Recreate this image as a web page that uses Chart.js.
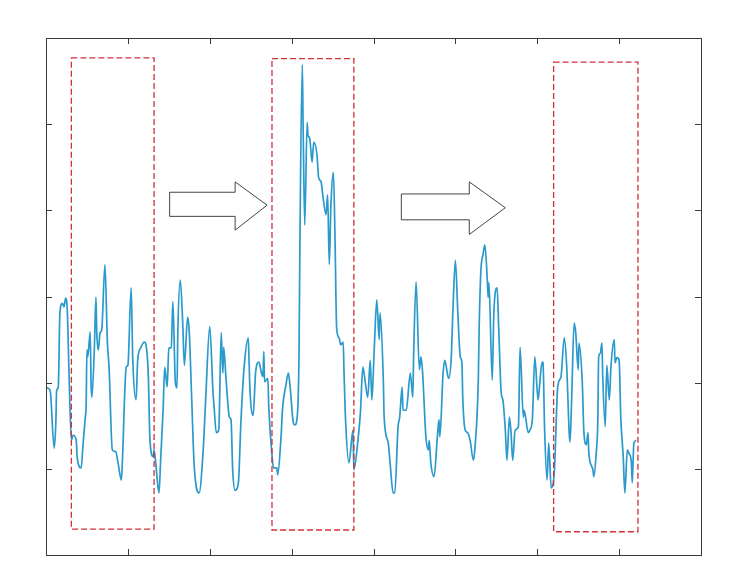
<!DOCTYPE html>
<html>
<head>
<meta charset="utf-8">
<script src="https://cdn.jsdelivr.net/npm/chart.js@4"></script>
<style>
  html, body { margin: 0; padding: 0; background: #fff; }
  #wrap { width: 740px; height: 584px; }
</style>
</head>
<body>
<div id="wrap"><canvas id="graph" width="740" height="584"></canvas></div>
<script>
// Signal samples (time, amplitude)
const times = [
  0.01,0.05,0.10,0.12,0.13,0.15,0.17,0.20,0.22,0.24,
  0.26,0.28,0.31,0.33,0.37,0.38,0.43,0.45,0.48,0.49,
  0.50,0.51,0.54,0.55,0.56,0.59,0.61,0.62,0.64,0.66,
  0.68,0.72,0.75,0.77,0.81,0.85,0.88,0.92,0.93,0.98,
  1.00,1.04,1.06,1.10,1.12,1.16,1.20,1.23,1.25,1.27,
  1.31,1.32,1.34,1.38,1.40,1.43,1.45,1.48,1.50,1.53,
  1.55,1.58,1.60,1.61,1.64,1.67,1.69,1.73,1.75,1.78,
  1.81,1.87,1.92,1.95,2.00,2.04,2.05,2.08,2.11,2.14,
  2.16,2.17,2.20,2.24,2.26,2.28,2.31,2.35,2.38,2.42,
  2.47,2.48,2.49,2.53,2.56,2.60,2.63,2.65,2.66,2.67,
  2.71,2.72,2.76,2.78,2.82,2.83,2.87,2.89,2.93,2.96,
  2.98,3.02,3.04,3.07,3.09,3.10,3.13,3.14,3.16,3.19,
  3.20,3.22,3.25,3.27,3.31,3.33,3.36,3.38,3.42,3.44,
  3.46,3.48,3.51,3.53,3.55,3.58,3.60,3.63,3.64,3.66,
  3.70,3.75,3.76,3.81,3.84,3.87,3.90,3.93,3.96,3.98,
  4.01,4.04,4.07,4.08,4.12,4.13,4.18,4.20,4.24,4.26,
  4.30,4.32,4.35,4.36,4.40,4.45,4.48,4.49,4.52,4.56,
  4.58,4.60,4.64,4.67,4.68,4.70,4.74,4.78,4.80,4.81,
  4.85,4.87,4.91,4.92,4.95,4.97,5.00,5.03,5.06,5.08,
  5.09,5.12,5.15,5.18,5.22,5.24,5.28,5.29,5.31,5.34,
  5.36,5.39,5.40,5.41,5.45,5.47,5.51,5.53,5.56,5.58,
  5.61,5.63,5.66,5.68,5.70,5.73,5.77,5.79,5.83,5.84,
  5.89,5.91,5.94,5.97,6.01,6.02,6.06,6.07,6.09,6.12,
  6.14,6.17,6.21,6.25,6.29,6.33,6.36,6.39,6.40,6.42,
  6.45,6.47,6.50,6.51,6.55,6.57,6.60,6.62,6.63,6.68,
  6.69,6.72,6.74,6.75,6.77,6.79,6.80,6.83,6.85,6.88,
  6.90,6.94,6.95,6.97,7.00,7.02,7.05,7.07,7.10,7.12,
  7.15,7.16,7.17,7.18,7.21
];
const amplitude = [
  1.94,1.91,1.24,1.53,1.91,1.95,2.81,2.92,2.88,2.98,
  2.84,2.15,1.33,1.39,1.33,1.14,1.01,1.25,1.60,1.72,
  2.38,2.30,2.59,2.00,1.83,2.38,2.99,2.58,2.38,2.58,
  2.61,3.37,2.46,2.18,1.22,1.20,1.07,0.87,1.02,2.18,
  2.20,3.10,2.26,1.80,2.26,2.41,2.47,2.38,2.07,1.33,
  1.14,1.22,1.07,0.72,1.10,1.68,2.18,1.95,2.40,2.41,
  2.94,2.00,1.94,2.58,3.19,2.69,2.20,2.76,2.58,1.80,
  1.04,0.72,1.22,1.80,2.65,1.88,1.76,1.42,1.45,2.58,
  2.11,2.41,2.03,1.60,1.57,0.99,0.75,0.84,1.53,2.18,
  2.52,2.26,1.94,1.62,2.12,2.24,2.12,2.07,2.36,2.01,
  2.05,1.74,1.16,1.01,1.01,0.93,1.36,1.71,1.97,2.11,
  1.97,1.54,1.51,1.62,2.32,3.48,5.69,5.02,3.83,5.02,
  4.87,4.84,4.56,4.79,4.64,4.38,4.33,4.18,3.95,4.18,
  3.37,4.06,4.44,3.68,2.63,2.52,2.44,2.47,2.12,1.54,
  1.07,1.45,0.99,1.33,1.65,2.18,2.00,1.83,2.26,1.80,
  2.41,2.96,2.50,2.81,2.03,1.60,1.30,1.10,0.72,0.72,
  1.49,1.60,1.95,1.68,1.68,2.11,1.83,2.30,3.17,2.15,
  2.30,2.11,1.37,1.22,1.33,1.07,0.91,1.37,1.57,1.37,
  2.11,2.26,2.07,2.05,2.30,2.84,3.42,2.81,2.30,2.23,
  1.83,1.45,1.42,1.33,1.10,1.25,2.03,2.61,3.27,3.50,
  3.60,3.19,2.99,3.16,2.03,2.81,3.10,2.61,1.88,1.80,
  1.45,1.10,1.60,1.42,1.10,1.45,1.49,2.41,1.60,1.68,
  1.42,1.45,1.57,2.30,1.80,1.88,2.24,2.23,1.45,0.87,
  1.30,0.78,0.99,1.95,2.07,2.52,2.18,1.42,1.31,1.80,
  2.69,2.58,2.15,2.46,2.00,1.42,1.28,1.42,1.18,0.99,
  0.91,1.18,1.57,2.30,2.34,2.46,2.07,1.49,2.20,1.80,
  2.18,2.50,2.23,2.29,2.26,1.60,1.14,0.72,1.22,1.18,
  1.07,0.84,1.07,1.30,1.33
];

// Axis ticks (unlabelled)
const xTicks = [1, 2, 3, 4, 5, 6, 7];
const yTicks = [1, 2, 3, 4, 5];

// Highlighted windows: [x0, x1, yBottom, yTop]
const windows = [
  [0.31, 1.32, 0.30, 5.77],
  [2.76, 3.76, 0.29, 5.76],
  [6.20, 7.23, 0.27, 5.72]
];

// Block arrows: [tailX, headBaseX, tipX, bodyTop, bodyBottom, headTop, headBottom, tipY]
const arrows = [
  [1.51, 2.31, 2.70, 4.21, 3.93, 4.33, 3.77, 4.06],
  [4.34, 5.17, 5.61, 4.19, 3.89, 4.33, 3.72, 4.03]
];

const points = times.map((t, i) => ({ x: t, y: amplitude[i] }));

// Box frame with inward ticks, like a MATLAB axes
const frame = {
  id: 'frame',
  afterDatasetsDraw(chart) {
    const { ctx, chartArea: a, scales: { x, y } } = chart;
    ctx.save();

    // windows
    ctx.strokeStyle = '#d22f38';
    ctx.lineWidth = 1.3;
    ctx.setLineDash([6, 3]);
    windows.forEach(w => {
      const l = x.getPixelForValue(w[0]), r = x.getPixelForValue(w[1]);
      const b = y.getPixelForValue(w[2]), t = y.getPixelForValue(w[3]);
      ctx.strokeRect(l, t, r - l, b - t);
    });
    ctx.setLineDash([]);

    // arrows
    ctx.strokeStyle = '#444';
    ctx.fillStyle = '#fff';
    ctx.lineWidth = 1;
    arrows.forEach(ar => {
      const px = v => x.getPixelForValue(v), py = v => y.getPixelForValue(v);
      ctx.beginPath();
      ctx.moveTo(px(ar[0]), py(ar[3]));
      ctx.lineTo(px(ar[1]), py(ar[3]));
      ctx.lineTo(px(ar[1]), py(ar[5]));
      ctx.lineTo(px(ar[2]), py(ar[7]));
      ctx.lineTo(px(ar[1]), py(ar[6]));
      ctx.lineTo(px(ar[1]), py(ar[4]));
      ctx.lineTo(px(ar[0]), py(ar[4]));
      ctx.closePath();
      ctx.fill();
      ctx.stroke();
    });

    // frame
    ctx.strokeStyle = '#3a3a3a';
    ctx.lineWidth = 1;
    ctx.strokeRect(a.left + 0.5, a.top + 0.5, a.right - a.left, a.bottom - a.top);
    ctx.beginPath();
    xTicks.forEach(v => {
      const p = Math.round(x.getPixelForValue(v)) + 0.5;
      ctx.moveTo(p, a.bottom); ctx.lineTo(p, a.bottom - 6);
      ctx.moveTo(p, a.top); ctx.lineTo(p, a.top + 6);
    });
    yTicks.forEach(v => {
      const p = Math.round(y.getPixelForValue(v)) + 0.5;
      ctx.moveTo(a.left, p); ctx.lineTo(a.left + 6, p);
      ctx.moveTo(a.right, p); ctx.lineTo(a.right - 6, p);
    });
    ctx.stroke();
    ctx.restore();
  }
};

const ctx = document.getElementById('graph').getContext('2d');
new Chart(ctx, {
  type: 'line',
  data: {
    datasets: [{
      data: points,
      borderColor: '#2a99cc',
      borderWidth: 1.7,
      pointRadius: 0,
      cubicInterpolationMode: 'monotone',
      fill: false
    }]
  },
  options: {
    responsive: false,
    animation: false,
    layout: { padding: { left: 46, top: 38, right: 39, bottom: 29 } },
    scales: {
      x: {
        type: 'linear',
        min: 0,
        max: 8,
        grid: { display: false },
        border: { display: false },
        ticks: { display: false },
        afterFit: s => { s.height = 0; }
      },
      y: {
        min: 0,
        max: 6,
        grid: { display: false },
        border: { display: false },
        ticks: { display: false },
        afterFit: s => { s.width = 0; }
      }
    },
    plugins: {
      legend: { display: false },
      tooltip: { enabled: false }
    }
  },
  plugins: [frame]
});
</script>
</body>
</html>
